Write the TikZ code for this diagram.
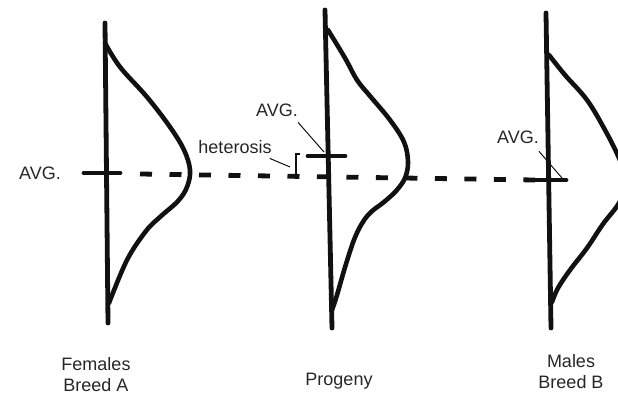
\documentclass[tikz,border=0pt]{standalone}
\usepackage{fontspec}
\setmainfont{Liberation Sans}
\usepackage{tikz}
\usetikzlibrary{positioning}
\definecolor{InkBlack}  {HTML}{111111}
\definecolor{LabelGray} {HTML}{262626}

\tikzset{
  curve/.style={draw=InkBlack,line width=4.6pt,line cap=round,line join=round},
  axisline/.style={draw=InkBlack,line width=4.8pt,line cap=round},
  avgtick/.style={draw=InkBlack,line width=4.8pt,line cap=round},
  meanline/.style={draw=InkBlack,line width=4.8pt,dash pattern=on 12pt off 17.5pt},
  leader/.style={draw=InkBlack,line width=1pt},
  lbl/.style={text=LabelGray,font=\fontsize{18}{21}\selectfont,inner sep=0pt},
}

\begin{document}
\begin{tikzpicture}[x=1pt,y=-1pt]
    \useasboundingbox (0,0) rectangle (618,396);
    \clip (0,0) rectangle (618,396);

    % vertical axes
    \draw[axisline] (105,23) -- (108,323);
    \draw[axisline] (325,10) -- (332,328);
    \draw[axisline] (546,13) -- (551,328);

    % distributions
    \draw[curve] plot[smooth,tension=0.6] coordinates {(105,43) (120,67) (147,97) (170,127)
      (184,150) (190,170) (187,187) (178,201) (160,217) (146,231) (127,260) (109,303)};
    \draw[curve] plot[smooth,tension=0.6] coordinates {(328,30) (345,58) (357,80) (370,96)
      (390,120) (404,142) (408,162) (405,178) (396,191) (384,202) (368,215) (356,235)
      (346,264) (337,295) (332,310)};
    \draw[curve] plot[smooth,tension=0.6] coordinates {(549,55) (565,75) (587,100) (605,130)
      (619,158) (627,181) (619,203) (603,224) (587,248) (570,270) (558,288) (552,302)};

    % averages
    \draw[meanline] (140,174) -- (535,180);
    \draw[avgtick] (84,173) -- (120,173);
    \draw[avgtick] (308,156) -- (345,156);
    \draw[avgtick] (536,180) -- (566,180);

    % heterosis bracket
    \draw[InkBlack,line width=1.8pt] (300,154) -- (296,154) -- (296,176);

    % labels
    \node[lbl,anchor=base] (avgA) at (40,179) {AVG.};
    \node[lbl,anchor=base] (avgP) at (277,116) {AVG.};
    \node[lbl,anchor=base] (avgB) at (518,143) {AVG.};
    \node[lbl,anchor=base] (het) at (235,153) {heterosis};
    \node[lbl,align=center] (femA) at (96,375) {Females\\Breed A};
    \node[lbl,anchor=base] (prog) at (339,385) {Progeny};
    \node[lbl,align=center] (malB) at (571,372) {Males\\Breed B};

    \coordinate (hetEnd) at (290,167);
    \coordinate (avgPEnd) at (324,152);
    \coordinate (avgBEnd) at (562,178);
    \draw[leader] (het.south east) ++(-2,5) -- (hetEnd);
    \draw[leader] (avgP.south east) ++(0,6) -- (avgPEnd);
    \draw[leader] (avgB.south east) ++(0,8) -- (avgBEnd);
  \end{tikzpicture}
\end{document}
